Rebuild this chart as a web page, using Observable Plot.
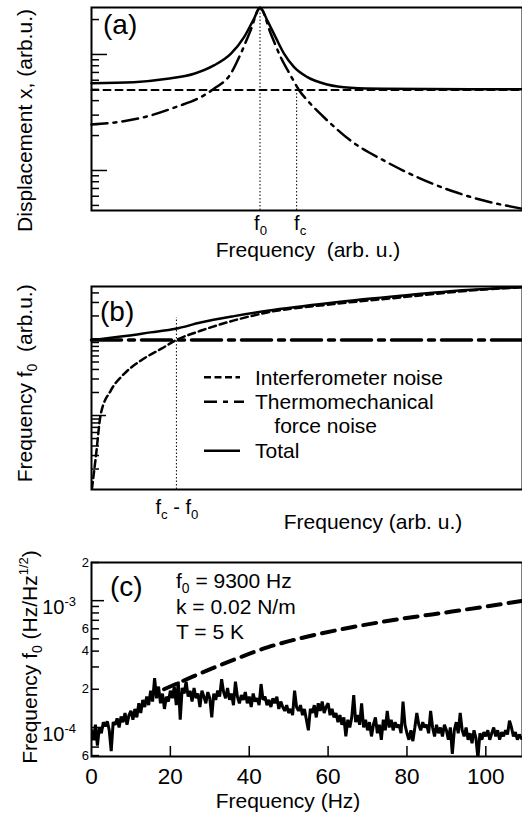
<!DOCTYPE html>
<html><head><meta charset="utf-8">
<script src="https://cdn.jsdelivr.net/npm/d3@7"></script>
<script src="https://cdn.jsdelivr.net/npm/@observablehq/plot@0.6"></script>
<style>
body{margin:0;background:#fff;}
#wrap{position:relative;width:522px;height:820px;overflow:hidden;background:#fff;}
#wrap svg{position:absolute;left:0;}
</style></head><body><div id="wrap"></div>
<script>
const FONT = '"Liberation Sans", Arial, Helvetica, sans-serif';

// ---------- Panel (a): displacement spectrum (arb. units) ----------
const aThermX = [0,6.0,13.7,19.9,25.3,28.4,32.3,34.6,36.9,39.1,41.6,43.9,46.2,48.1,50.8,54.7,60.1,67.8,75.6,83.3,91.0,100];
const aThermY = [2.49,2.61,2.98,3.56,4.28,5.06,6.82,10.1,16.1,25.3,15.1,9.48,6.59,4.96,3.76,2.70,1.81,1.22,0.875,0.672,0.551,0.468];
const aTotalX = [0,9.8,17.6,23.8,28.4,32.3,35.4,37.7,39.1,40.8,42.7,44.7,47.0,50.1,54.7,60.1,67.8,100];
const aTotalY = [5.66,5.77,6.17,6.82,8.04,10.1,14.1,20.3,25.3,19.6,14.1,10.1,7.77,6.37,5.51,5.16,5.06,5.01];
const aInterfX = [0,100];
const aInterfY = [4.95,4.95];
const aF0 = 39.1, aFc = 47.6;
const aXDomain = [0,100];
const aYDomain = [0.452,25.4];
const aMajorTicks = [1,10];
const aMinorTicks = [0.5,0.6,0.7,0.8,0.9,2,3,4,5,6,7,8,9,20];

// ---------- Panel (b): frequency noise (arb. units) ----------
const bInterfX = [0.1,1.0,2.16,4.47,7.56,11.4,16.1,19.7,25.3,33.1,40.8,56.2,71.7,87.2,100];
const bInterfY = [0.11,0.286,1.05,2.12,3.50,5.21,7.41,9.7,12.8,17.5,22.2,28.6,34.9,42.6,47.5];
const bTotalX = [0.2,8.35,13.7,19.5,25.3,33.1,40.8,56.2,71.7,87.2,100];
const bTotalY = [9.7,11.0,12.2,13.6,16.4,19.9,23.4,30.0,36.7,43.6,47.5];
const bThermX = [0,100];
const bThermY = [9.7,9.7];
const bFcMinusF0 = 19.7, bFcLineTop = 19;
const bXDomain = [0,100];
const bYDomain = [0.108,48.5];
const bMajorTicks = [1,10];
const bMinorTicks = [0.2,0.3,0.4,0.5,0.6,0.7,0.8,0.9,2,3,4,5,6,7,8,9,20,30,40];
const bLegend = ["Interferometer noise","Thermomechanical","force noise","Total"];

// ---------- Panel (c): measured frequency noise ----------
const cStep = 0.5; // Hz between samples
const cNoise = [ // units of 1e-4 Hz/Hz^1/2
0.95,0.80,1.05,0.72,1.00,0.90,1.10,1.02,1.12,0.95,
0.65,1.10,1.05,1.18,1.00,1.22,1.10,1.30,1.05,1.25,
1.35,1.15,1.40,1.20,1.55,1.30,1.65,1.45,1.75,1.50,
1.95,1.60,2.45,1.70,2.10,1.55,1.85,1.40,1.75,1.60,
1.95,1.70,2.10,1.50,2.30,1.15,2.05,1.85,2.30,1.75,
1.95,1.60,2.05,1.70,1.85,1.45,1.95,1.75,1.55,1.90,
1.70,1.20,1.85,1.65,1.95,1.75,2.40,1.90,1.70,2.05,
1.65,1.85,1.50,2.30,1.75,1.55,1.80,1.65,1.90,1.55,
1.75,1.45,1.85,1.60,1.70,1.50,2.20,1.65,1.75,1.50,
1.65,1.45,1.70,1.55,1.75,1.40,1.60,1.45,1.35,1.50,
1.30,1.40,1.25,1.95,1.45,1.35,1.50,1.25,1.40,1.15,
0.95,1.40,1.30,1.50,1.20,1.55,1.35,1.60,1.30,1.45,
1.55,1.25,1.40,1.20,1.30,1.10,1.25,1.05,1.20,0.85,
1.15,1.00,1.20,1.80,1.10,1.25,1.05,1.55,1.00,1.15,
0.95,1.10,0.85,1.05,1.20,0.90,1.05,0.80,1.15,0.95,
1.35,1.00,1.15,0.95,1.10,1.00,1.05,0.90,1.60,1.05,
0.90,0.80,0.95,0.78,1.00,1.30,1.05,0.95,1.10,1.00,
1.05,0.90,1.35,1.00,0.85,1.05,0.90,1.00,0.85,1.05,
0.95,0.80,1.00,0.62,0.95,1.10,0.90,1.30,0.95,0.85,
1.00,0.80,0.90,0.75,0.95,0.82,0.57,0.90,0.80,0.92,
0.85,0.95,0.80,0.90,1.00,0.85,0.95,0.80,0.92,0.85,
0.95,0.88,1.13,1.00,0.85,0.92,0.80,0.88,0.82
];
const cDashX = [18.4,26.1,36.3,44.8,53.3,66,78.7,91.4,109.7];
const cDashY = [2.0,2.55,3.44,4.3,5.08,6.17,7.2,8.2,10.0]; // units of 1e-4
const cXDomain = [0,109.3];
const cYDomain = [5.9e-5,2e-3];
const cXTicks = [20,40,60,80,100];
const cXLabels = [0,20,40,60,80,100];
const cMajorTicks = [1e-4,1e-3];
const cMinorTicks = [6e-5,7e-5,8e-5,9e-5,2e-4,3e-4,4e-4,5e-4,6e-4,7e-4,8e-4,9e-4,2e-3];
const cYLabels = [
  {v:2e-3, base:"2"}, {v:1e-3, base:"10", sup:"-3"}, {v:6e-4, base:"6"},
  {v:4e-4, base:"4"}, {v:2e-4, base:"2"}, {v:1e-4, base:"10", sup:"-4"}, {v:6e-5, base:"6"}
];
const cParams = [["f",{t:"0",sub:true}," = 9300 Hz"],["k = 0.02 N/m"],["T = 5 K"]];

// ---------- helpers ----------
const W = 522, ML = 91, MR = 0;
const PW = W - ML - MR;
const zipXY = (xs, ys, k = 1) => xs.map((x, i) => ({x, y: ys[i] * k}));
function scaleFn(svg, name) {
  const s = svg.scale(name);
  if (s && typeof s.apply === "function") return v => s.apply(v);
  return (s.type === "log" ? d3.scaleLog() : d3.scaleLinear()).domain(s.domain).range(s.range);
}
// inward tick marks on the left axis: short rules starting at the frame
function leftTicks(values, lenPx, xd, sw = 1.5) {
  const x2 = xd[0] + lenPx * (xd[1] - xd[0]) / PW;
  return Plot.ruleY(values, {y: d => d, x1: xd[0], x2, stroke: "black", strokeWidth: sw});
}
function richText(svg, {x, y, size, anchor = "start", rotate = 0, parts}) {
  const t = d3.select(svg).append("text")
    .attr("transform", `translate(${x},${y})` + (rotate ? ` rotate(${rotate})` : ""))
    .attr("text-anchor", anchor).attr("font-size", size).attr("font-family", FONT)
    .attr("fill", "black").style("white-space", "pre");
  let shift = 0;
  for (const p of parts) {
    const s = typeof p === "string" ? {t: p} : p;
    const target = s.sub ? size * 0.24 : s.sup ? -size * 0.42 : 0;
    const ts = t.append("tspan").text(s.t).attr("dy", target - shift);
    if (s.sub || s.sup) ts.attr("font-size", s.size || size * 0.66);
    shift = target;
  }
  return t;
}
const baseStyle = {background: "transparent", overflow: "visible", fontFamily: FONT};
const wrap = document.getElementById("wrap");
function place(svg, top) { svg.style.top = top + "px"; svg.style.position = "absolute"; wrap.appendChild(svg); }

// ---------- Panel (a) ----------
const aH = 262, aMT = 7, aMB = 52;
const svgA = Plot.plot({
  width: W, height: aH, marginLeft: ML, marginRight: MR, marginTop: aMT, marginBottom: aMB,
  style: baseStyle,
  x: {domain: aXDomain, axis: null},
  y: {type: "log", domain: aYDomain, axis: null},
  marks: [
    leftTicks(aMinorTicks, 8, aXDomain),
    leftTicks(aMajorTicks, 16, aXDomain),
    Plot.ruleX([aF0], {x: d => d, y1: aYDomain[0], y2: 25.3, stroke: "black", strokeWidth: 1, strokeDasharray: "1.5,2"}),
    Plot.ruleX([aFc], {x: d => d, y1: aYDomain[0], y2: aInterfY[0], stroke: "black", strokeWidth: 1, strokeDasharray: "1.5,2"}),
    Plot.line(zipXY(aInterfX, aInterfY), {x: "x", y: "y", stroke: "black", strokeWidth: 2, strokeDasharray: "7,5"}),
    Plot.line(zipXY(aThermX, aThermY), {x: "x", y: "y", stroke: "black", strokeWidth: 2.5, strokeDasharray: "16,6,3,6", curve: "monotone-x"}),
    Plot.line(zipXY(aTotalX, aTotalY), {x: "x", y: "y", stroke: "black", strokeWidth: 2.5, curve: "monotone-x"}),
    Plot.frame({stroke: "black", strokeWidth: 2})
  ]
});
place(svgA, 0);
{
  const sx = scaleFn(svgA, "x");
  richText(svgA, {x: 103, y: 34, size: 28, parts: ["(a)"]});
  richText(svgA, {x: 31.5, y: 120.5, size: 21, anchor: "middle", rotate: -90, parts: ["Displacement x, (arb.u.)"]});
  richText(svgA, {x: 308, y: 256.5, size: 21, anchor: "middle", parts: ["Frequency  (arb. u.)"]});
  richText(svgA, {x: sx(aF0) + 1, y: 230, size: 20, anchor: "middle", parts: ["f", {t: "0", sub: true}]});
  richText(svgA, {x: sx(aFc) + 4, y: 230, size: 20, anchor: "middle", parts: ["f", {t: "c", sub: true}]});
}

// ---------- Panel (b) ----------
const bTop = 262, bH = 280, bMT = 24, bMB = 53;
const svgB = Plot.plot({
  width: W, height: bH, marginLeft: ML, marginRight: MR, marginTop: bMT, marginBottom: bMB,
  style: baseStyle,
  x: {domain: bXDomain, axis: null},
  y: {type: "log", domain: bYDomain, axis: null},
  marks: [
    leftTicks(bMinorTicks, 8, bXDomain),
    leftTicks(bMajorTicks, 15, bXDomain),
    Plot.ruleX([bFcMinusF0], {x: d => d, y1: bYDomain[0], y2: bFcLineTop, stroke: "black", strokeWidth: 1, strokeDasharray: "1.5,2"}),
    Plot.line(zipXY(bThermX, bThermY), {x: "x", y: "y", stroke: "black", strokeWidth: 3.5, strokeDasharray: "30,7,6,7"}),
    Plot.line(zipXY(bInterfX, bInterfY), {x: "x", y: "y", stroke: "black", strokeWidth: 2.5, strokeDasharray: "7,4", curve: "monotone-x", clip: true}),
    Plot.line(zipXY(bTotalX, bTotalY), {x: "x", y: "y", stroke: "black", strokeWidth: 2.5, curve: "monotone-x"}),
    Plot.frame({stroke: "black", strokeWidth: 2})
  ]
});
place(svgB, bTop);
{
  const sx = scaleFn(svgB, "x");
  const g = d3.select(svgB);
  richText(svgB, {x: 100, y: 321 - bTop, size: 28, parts: ["(b)"]});
  richText(svgB, {x: 31.5, y: 383.3 - bTop, size: 21, anchor: "middle", rotate: -90, parts: ["Frequency f", {t: "0", sub: true}, "  (arb.u.)"]});
  richText(svgB, {x: 373, y: 529 - bTop, size: 21, anchor: "middle", parts: ["Frequency (arb. u.)"]});
  richText(svgB, {x: sx(bFcMinusF0) + 1, y: 514 - bTop, size: 20, anchor: "middle", parts: ["f", {t: "c", sub: true}, " - f", {t: "0", sub: true}]});
  // legend
  const lx1 = 204, lx2 = 240, tx = 255;
  const rows = [377.3, 401.7, 450.7].map(v => v - bTop);
  g.append("line").attr("x1", lx1).attr("x2", lx2).attr("y1", rows[0]).attr("y2", rows[0]).attr("stroke", "black").attr("stroke-width", 2.5).attr("stroke-dasharray", "7,3.5");
  g.append("line").attr("x1", lx1).attr("x2", lx2 + 4).attr("y1", rows[1]).attr("y2", rows[1]).attr("stroke", "black").attr("stroke-width", 2.5).attr("stroke-dasharray", "13,6,5,6");
  g.append("line").attr("x1", lx1).attr("x2", lx2).attr("y1", rows[2]).attr("y2", rows[2]).attr("stroke", "black").attr("stroke-width", 2.5);
  richText(svgB, {x: tx, y: 385 - bTop, size: 21, parts: [bLegend[0]]});
  richText(svgB, {x: tx, y: 409.3 - bTop, size: 21, parts: [bLegend[1]]});
  richText(svgB, {x: 274.3, y: 433.3 - bTop, size: 21, parts: [bLegend[2]]});
  richText(svgB, {x: tx, y: 458.3 - bTop, size: 21, parts: [bLegend[3]]});
}

// ---------- Panel (c) ----------
const cTop = 542, cH = 278, cMT = 20, cMB = 64;
const cPH = cH - cMT - cMB;
const cDecadePx = cPH / Math.log10(cYDomain[1] / cYDomain[0]);
const cNoiseData = cNoise.map((v, i) => ({x: i * cStep, y: v * 1e-4}));
const svgC = Plot.plot({
  width: W, height: cH, marginLeft: ML, marginRight: MR, marginTop: cMT, marginBottom: cMB,
  style: baseStyle,
  x: {domain: cXDomain},
  y: {type: "log", domain: cYDomain, axis: null},
  marks: [
    leftTicks(cMinorTicks, 8, cXDomain),
    leftTicks(cMajorTicks, 13, cXDomain),
    Plot.ruleX(cXTicks, {x: d => d, y1: cYDomain[0], y2: cYDomain[0] * Math.pow(10, 10 / cDecadePx), stroke: "black", strokeWidth: 1.5}),
    Plot.axisX(cXLabels, {tickSize: 0, tickPadding: 12, fontSize: 22.5, tickFormat: d => String(d), label: null}),
    Plot.line(cNoiseData, {x: "x", y: "y", stroke: "black", strokeWidth: 3, strokeLinejoin: "miter", clip: true}),
    Plot.line(zipXY(cDashX, cDashY, 1e-4), {x: "x", y: "y", stroke: "black", strokeWidth: 4, strokeDasharray: "13,8", curve: "monotone-x", clip: true}),
    Plot.frame({stroke: "black", strokeWidth: 2})
  ]
});
place(svgC, cTop);
{
  const sy = scaleFn(svgC, "y");
  richText(svgC, {x: 110, y: 595.8 - cTop, size: 28, parts: ["(c)"]});
  cParams.forEach((parts, i) => richText(svgC, {x: 176, y: 588.3 - cTop + i * 25.5, size: 21, parts}));
  richText(svgC, {x: 36.5, y: 657 - cTop, size: 21, anchor: "middle", rotate: -90,
    parts: ["Frequency f", {t: "0", sub: true}, " (Hz/Hz", {t: "1/2", sup: true, size: 13}, ")"]});
  richText(svgC, {x: 288, y: 808 - cTop, size: 21, anchor: "middle", parts: ["Frequency (Hz)"]});
  for (const l of cYLabels) {
    const y = sy(l.v);
    if (l.sup) {
      richText(svgC, {x: 76, y: y + 14, size: 20, anchor: "end", parts: [l.base, {t: l.sup, sup: true, size: 13}]});
    } else {
      richText(svgC, {x: 89, y: y + 4.5, size: 13, anchor: "end", parts: [l.base]});
    }
  }
}
</script></body></html>
